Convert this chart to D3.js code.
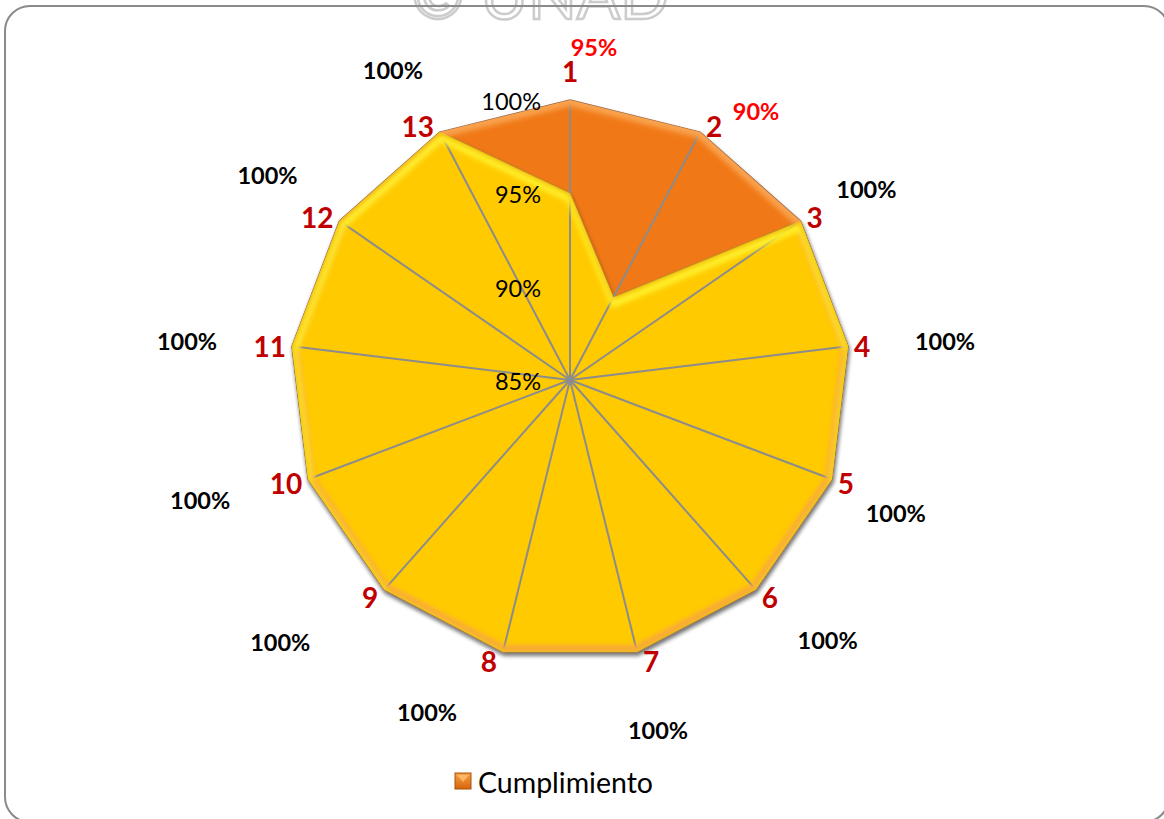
<!DOCTYPE html>
<html>
<head>
<meta charset="utf-8">
<script src="https://cdn.jsdelivr.net/npm/d3@7/dist/d3.min.js"></script>
<style>
  html, body { margin: 0; padding: 0; background: #fff; }
  svg { display: block; }
</style>
</head>
<body>
<svg id="chart" width="1164" height="819"></svg>
<script>
// ---- data ----
const categories = ["1","2","3","4","5","6","7","8","9","10","11","12","13"];
const cumplimiento = [95, 90, 100, 100, 100, 100, 100, 100, 100, 100, 100, 100, 100];
const meta = [100, 100, 100, 100, 100, 100, 100, 100, 100, 100, 100, 100, 100];
const dataLabels = ["95%","90%","100%","100%","100%","100%","100%","100%","100%","100%","100%","100%","100%"];
const tickValues = [85, 90, 95, 100];
const tickLabels = ["85%", "90%", "95%", "100%"];
const seriesName = "Cumplimiento";

// ---- layout (not data) ----
const dataLabelOffsets = [[24,-53],[56,-21],[66,-32],[97,-5],[64,34],[72,50],[21,78],[-76,60],[-104,52],[-108,21],[-105,-5],[-72,-46],[-47,-62]];
const cx = 570, cy = 380, R = 280;
const font = "Lato, 'Open Sans', 'Liberation Sans', sans-serif";

const svg = d3.select("#chart");
const defs = svg.append("defs");

// frame
svg.append("rect").attr("x", 5).attr("y", 6).attr("width", 1164).attr("height", 816)
  .attr("rx", 25).attr("ry", 25).attr("fill", "#fff").attr("stroke", "#8a8a8a").attr("stroke-width", 2);

// watermark (faint, clipped at top)
svg.append("text").attr("x", 540).attr("y", 19).attr("text-anchor", "middle")
  .attr("font-family", font).attr("font-size", 64).attr("fill", "none")
  .attr("stroke", "#cccccc").attr("stroke-width", 2.5).text("©  UNAD");
svg.append("line").attr("x1", 30).attr("x2", 1144).attr("y1", 6).attr("y2", 6)
  .attr("stroke", "#8a8a8a").attr("stroke-width", 2);

const r = d3.scaleLinear().domain([85, 100]).range([0, R]);
const angle = d3.scaleLinear().domain([0, categories.length]).range([0, 2 * Math.PI]);
const px = (i, v) => cx + r(v) * Math.sin(angle(i));
const py = (i, v) => cy - r(v) * Math.cos(angle(i));

const line = d3.lineRadial().angle((d, i) => angle(i)).radius(d => r(d)).curve(d3.curveLinearClosed);

const g = svg.append("g").attr("transform", `translate(${cx},${cy})`);

// filters
const blur = defs.append("filter").attr("id", "blur").attr("x", "-10%").attr("y", "-10%").attr("width", "120%").attr("height", "120%");
blur.append("feGaussianBlur").attr("stdDeviation", 2.5);
const shadow = defs.append("filter").attr("id", "shadow").attr("x", "-10%").attr("y", "-10%").attr("width", "120%").attr("height", "120%");
shadow.append("feGaussianBlur").attr("in", "SourceAlpha").attr("stdDeviation", 2).attr("result", "b");
shadow.append("feOffset").attr("dx", 1).attr("dy", 3).attr("result", "o");
shadow.append("feComponentTransfer").append("feFuncA").attr("type", "linear").attr("slope", 0.35);
const fm = shadow.append("feMerge");
fm.append("feMergeNode");
fm.append("feMergeNode").attr("in", "SourceGraphic");

// clip paths
defs.append("clipPath").attr("id", "clipMeta").append("path")
  .attr("transform", `translate(${cx},${cy})`).attr("d", line(meta));
defs.append("clipPath").attr("id", "clipCump").append("path")
  .attr("transform", `translate(${cx},${cy})`).attr("d", line(cumplimiento));

// orange area (100% plot area)
g.append("path").attr("d", line(meta)).attr("fill", "#F07814")
  .attr("stroke", "#9a6a4a").attr("stroke-width", 1.5).attr("filter", "url(#shadow)");
svg.append("g").attr("clip-path", "url(#clipMeta)")
  .append("path").attr("transform", `translate(${cx},${cy})`).attr("d", line(meta))
  .attr("fill", "none").attr("stroke", "#F9A24E").attr("stroke-width", 12).attr("filter", "url(#blur)");

// yellow series
g.append("path").attr("d", line(cumplimiento)).attr("fill", "#FFCA06")
  .attr("stroke", "#b08a30").attr("stroke-width", 1.2).attr("filter", "url(#shadow)");
const hl = svg.append("g").attr("clip-path", "url(#clipCump)");
hl.append("path").attr("transform", `translate(${cx + 1},${cy + 5})`).attr("d", line(cumplimiento))
  .attr("fill", "none").attr("stroke", "#FFF02A").attr("stroke-width", 9).attr("filter", "url(#blur)");
hl.append("path").attr("transform", `translate(${cx},${cy})`).attr("d", line(cumplimiento))
  .attr("fill", "none").attr("stroke", "#EDB000").attr("stroke-width", 3).attr("filter", "url(#blur)");

// spokes
g.selectAll("line.spoke").data(categories).join("line").attr("class", "spoke")
  .attr("x1", 0).attr("y1", 0)
  .attr("x2", (d, i) => r(100) * Math.sin(angle(i)))
  .attr("y2", (d, i) => -r(100) * Math.cos(angle(i)))
  .attr("stroke", "#8c8c8c").attr("stroke-width", 2);

// tick labels on the vertical axis
svg.selectAll("text.tick").data(tickValues).join("text").attr("class", "tick")
  .attr("x", cx - 29).attr("y", d => cy - r(d) + 1)
  .attr("text-anchor", "end").attr("dominant-baseline", "central")
  .attr("font-family", font).attr("font-size", 23.5).attr("fill", "#000")
  .text((d, i) => tickLabels[i]);

// category labels
svg.selectAll("text.cat").data(categories).join("text").attr("class", "cat")
  .attr("x", (d, i) => {
    const s = Math.sin(angle(i));
    if (Math.abs(s) < 0.01) return px(i, 100);
    return px(i, 100) + (s > 0 ? 6 : -6);
  })
  .attr("y", (d, i) => {
    const c = Math.cos(angle(i));
    if (i === 0) return py(i, 100) - 29;
    return py(i, 100) - 8 * c + 1;
  })
  .attr("text-anchor", (d, i) => {
    const s = Math.sin(angle(i));
    return Math.abs(s) < 0.01 ? "middle" : (s > 0 ? "start" : "end");
  })
  .attr("dominant-baseline", "central")
  .attr("font-family", font).attr("font-weight", 700).attr("font-size", 28)
  .attr("fill", "#C00000").text(d => d);

// data labels
svg.selectAll("text.dl").data(cumplimiento).join("text").attr("class", "dl")
  .attr("x", (d, i) => px(i, 100) + dataLabelOffsets[i][0])
  .attr("y", (d, i) => py(i, 100) + dataLabelOffsets[i][1])
  .attr("text-anchor", "middle").attr("dominant-baseline", "central")
  .attr("font-family", font).attr("font-weight", 700).attr("font-size", 23.5)
  .attr("fill", d => d < 100 ? "#FF0000" : "#000")
  .text((d, i) => dataLabels[i]);

// legend
const lg = svg.append("g").attr("transform", "translate(455,773)");
const lgGrad = defs.append("linearGradient").attr("id", "lgGrad").attr("x1", 0).attr("y1", 0).attr("x2", 0).attr("y2", 1);
lgGrad.append("stop").attr("offset", "0%").attr("stop-color", "#F6A04A");
lgGrad.append("stop").attr("offset", "100%").attr("stop-color", "#D9650A");
lg.append("rect").attr("width", 16).attr("height", 16).attr("fill", "url(#lgGrad)").attr("stroke", "#a85408").attr("stroke-width", 1);
lg.append("path").attr("d", "M2,2 L14,2 L8,9 Z").attr("fill", "#FFC070").attr("opacity", 0.8);
lg.append("text").attr("x", 23).attr("y", 9).attr("dominant-baseline", "central")
  .attr("font-family", font).attr("font-size", 28.5).attr("fill", "#000").text(seriesName);
</script>
</body>
</html>
